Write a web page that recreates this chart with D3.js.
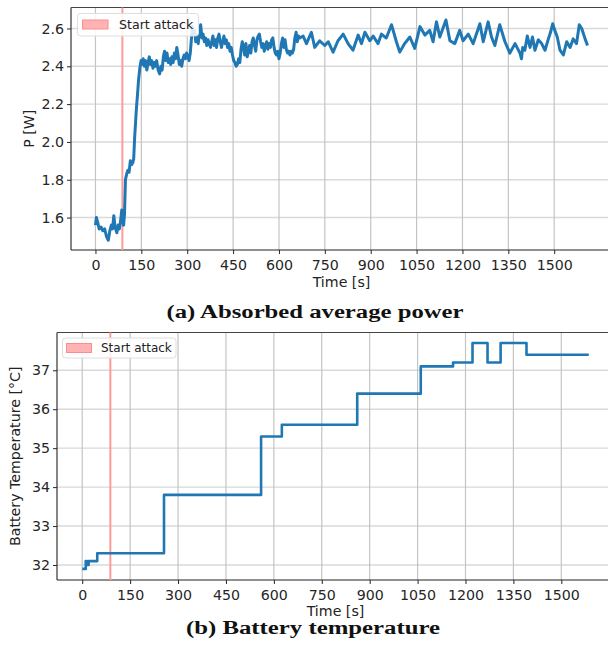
<!DOCTYPE html>
<html><head><meta charset="utf-8">
<script src="https://cdn.jsdelivr.net/npm/d3@7"></script>
<style>
html,body{margin:0;padding:0;background:#fff;}
svg{display:block;font-family:"DejaVu Sans",sans-serif;}
</style></head>
<body>
<script>
// ---------- DATA ----------
const attackTime = 88;
const powerT = [0,3,8,12,18,24,30,36,42,47,52,56,60,64,70,74,78,82,86,89,92,95,98,102,106,110,114,118,122,125,128,131,134,137,141,145,149,152,156,160,164,168,172,176,180,184,188,192,196,200,205,210,214,218,222,226,230,234,238,242,246,250,254,258,262,266,270,274,278,282,286,290,294,298,302,306,310,314,317,320,324,328,332,336,340,344,348,352,356,360,364,368,372,376,380,384,388,392,396,400,404,408,412,416,420,424,428,432,436,440,444,448,452,456,460,464,468,472,476,480,484,488,492,496,500,504,508,512,516,520,524,528,532,536,540,544,548,552,556,560,564,568,572,576,580,584,588,592,596,600,604,608,612,616,620,624,628,632,636,640,644,648,652,656,660,664,668,679,690,706,717,733,750,761,777,793,810,826,842,859,870,881,897,908,924,935,951,968,984,995,1011,1028,1044,1061,1077,1093,1104,1115,1126,1146,1159,1175,1191,1202,1219,1235,1257,1268,1284,1295,1306,1322,1339,1355,1372,1388,1393,1397,1404,1412,1421,1429,1437,1448,1459,1470,1481,1488,1495,1502,1510,1519,1530,1541,1552,1562,1573,1582,1590,1601,1609];
const powerW = [1.56,1.60,1.57,1.54,1.55,1.53,1.54,1.50,1.48,1.53,1.56,1.54,1.61,1.55,1.52,1.56,1.54,1.58,1.64,1.58,1.56,1.62,1.80,1.83,1.85,1.84,1.90,1.88,1.89,1.91,2.02,2.10,2.18,2.24,2.33,2.39,2.43,2.41,2.44,2.40,2.43,2.38,2.42,2.45,2.41,2.43,2.39,2.42,2.40,2.43,2.38,2.36,2.40,2.38,2.45,2.48,2.43,2.47,2.42,2.44,2.41,2.45,2.42,2.47,2.44,2.50,2.46,2.41,2.43,2.40,2.44,2.46,2.44,2.47,2.45,2.43,2.47,2.55,2.61,2.57,2.59,2.53,2.56,2.52,2.58,2.62,2.55,2.57,2.53,2.55,2.51,2.54,2.52,2.50,2.53,2.56,2.51,2.54,2.50,2.55,2.57,2.53,2.50,2.53,2.56,2.52,2.54,2.50,2.52,2.48,2.50,2.46,2.43,2.42,2.40,2.41,2.44,2.42,2.49,2.53,2.50,2.46,2.52,2.45,2.48,2.51,2.47,2.53,2.55,2.51,2.48,2.54,2.56,2.57,2.53,2.50,2.52,2.48,2.51,2.53,2.49,2.52,2.50,2.54,2.55,2.50,2.47,2.46,2.48,2.44,2.47,2.52,2.55,2.50,2.54,2.49,2.47,2.48,2.46,2.48,2.47,2.49,2.55,2.58,2.53,2.56,2.55,2.56,2.52,2.58,2.50,2.535,2.51,2.53,2.475,2.535,2.57,2.52,2.485,2.565,2.52,2.58,2.535,2.56,2.52,2.57,2.55,2.62,2.53,2.475,2.52,2.555,2.495,2.61,2.565,2.59,2.53,2.635,2.555,2.645,2.535,2.52,2.59,2.535,2.57,2.52,2.625,2.53,2.635,2.555,2.51,2.62,2.53,2.47,2.52,2.47,2.44,2.50,2.485,2.56,2.50,2.555,2.485,2.54,2.52,2.485,2.545,2.58,2.625,2.59,2.555,2.485,2.46,2.53,2.50,2.545,2.52,2.62,2.60,2.545,2.51];
const tempT = [0,11,15,20,47,256,560,625,861,1060,1161,1222,1269,1310,1391,1586];
const tempC = [31.9,32.1,32.0,32.1,32.3,33.8,35.3,35.6,36.4,37.1,37.2,37.7,37.2,37.7,37.4,37.4];
const timeTicks = [0,150,300,450,600,750,900,1050,1200,1350,1500];
const powerTicks = [1.6,1.8,2.0,2.2,2.4,2.6];
const tempTicks = [32,33,34,35,36,37];
const legendLabel = "Start attack";

// ---------- DRAW ----------
const W = 608, H = 649;
const svg = d3.select("body").append("svg").attr("width", W).attr("height", H);
const FS = 14.2;

function panel(cfg) {
  const {x0,x1,y0,y1,xDom,yDom,yTicks,yFmt,ylabel,ylabelX,xlabelY,tickY,legend,caption,capY,capX,capW,id} = cfg;
  const x = d3.scaleLinear().domain(xDom).range([x0,x1]);
  const y = d3.scaleLinear().domain(yDom).range([y1,y0]);
  const g = svg.append("g");
  g.append("clipPath").attr("id", id).append("rect").attr("x", x0).attr("y", y0).attr("width", x1-x0).attr("height", y1-y0);
  // grid
  g.append("g").selectAll("line").data(yTicks).join("line")
    .attr("x1", x0).attr("x2", x1).attr("y1", d=>y(d)).attr("y2", d=>y(d))
    .attr("stroke", "#d9d9d9").attr("stroke-width", 1.4);
  g.append("g").selectAll("line").data(timeTicks).join("line")
    .attr("x1", d=>x(d)).attr("x2", d=>x(d)).attr("y1", y0).attr("y2", y1)
    .attr("stroke", "#c4c4c4").attr("stroke-width", 1.2);
  // axes
  const xa = g.append("g").attr("transform", `translate(0,${y1})`)
    .call(d3.axisBottom(x).tickValues(timeTicks).tickSize(4).tickPadding(3).tickFormat(d3.format("d")));
  const ya = g.append("g").attr("transform", `translate(${x0},0)`)
    .call(d3.axisLeft(y).tickValues(yTicks).tickSize(4).tickPadding(3).tickFormat(yFmt));
  [xa, ya].forEach(a => {
    a.select(".domain").remove();
    a.selectAll("text").attr("font-size", FS).attr("font-family", "DejaVu Sans").attr("fill", "#262626");
    a.selectAll("line").attr("stroke", "#262626");
  });
  xa.selectAll("text").attr("dy", null).attr("y", tickY - y1).attr("dominant-baseline", "alphabetic");
  // spines
  g.append("line").attr("x1", x0).attr("x2", x0).attr("y1", y0).attr("y2", y1).attr("stroke", "#222").attr("stroke-width", 1.1);
  g.append("line").attr("x1", x0).attr("x2", x1).attr("y1", y1).attr("y2", y1).attr("stroke", "#222").attr("stroke-width", 1.1);
  g.append("line").attr("x1", x0).attr("x2", x1).attr("y1", y0).attr("y2", y0).attr("stroke", "#444").attr("stroke-width", 1.1);
  // attack line
  g.append("line").attr("x1", x(attackTime)).attr("x2", x(attackTime)).attr("y1", y0).attr("y2", y1)
    .attr("stroke", "#ff9a9a").attr("stroke-width", 2);
  // data
  g.append("path").datum(cfg.data).attr("clip-path", `url(#${id})`)
    .attr("fill", "none").attr("stroke", "#1f77b4").attr("stroke-width", cfg.lw)
    .attr("stroke-linejoin", "round")
    .attr("d", d3.line().x(d=>x(d[0])).y(d=>y(d[1])).curve(cfg.curve));
  // legend
  const L = legend;
  g.append("rect").attr("x", L.x).attr("y", L.y).attr("width", L.w).attr("height", L.h).attr("rx", 3)
    .attr("fill", "rgba(255,255,255,0.85)").attr("stroke", "#dedede");
  g.append("rect").attr("x", L.px).attr("y", L.py).attr("width", L.pw).attr("height", L.ph)
    .attr("fill", "#ffb3b3").attr("stroke", "#ff8c8c").attr("stroke-width", 1);
  g.append("text").attr("x", L.tx).attr("y", L.ty).attr("font-size", L.fs).attr("fill", "#222").text(legendLabel);
  // labels
  g.append("text").attr("transform", `translate(${ylabelX},${(y0+y1)/2}) rotate(-90)`)
    .attr("text-anchor", "middle").attr("font-size", FS).attr("fill", "#222").text(ylabel);
  g.append("text").attr("x", (x0+x1)/2).attr("y", xlabelY).attr("text-anchor", "middle")
    .attr("font-size", FS).attr("fill", "#222").text("Time [s]");
  g.append("text").attr("x", capX).attr("y", capY).attr("text-anchor", "middle")
    .attr("font-family", "'Liberation Serif','DejaVu Serif',serif").attr("font-weight", "bold")
    .attr("font-size", 18.5).attr("fill", "#111")
    .attr("textLength", capW).attr("lengthAdjust", "spacingAndGlyphs").text(caption);
}

panel({
  id: "c1", x0: 71, x1: 612, y0: 7.5, y1: 250,
  xDom: [-80, 1689], yDom: [1.4285, 2.711],
  yTicks: powerTicks, yFmt: d3.format(".1f"), ylabel: "P [W]", ylabelX: 34, xlabelY: 287, tickY: 269.5,
  data: powerT.map((t,i)=>[t, powerW[i]]), curve: d3.curveLinear, lw: 3,
  legend: {x: 77.5, y: 13.5, w: 121, h: 22.5, px: 82.5, py: 20, pw: 25.5, ph: 9, tx: 119, ty: 28.5, fs: 12.6},
  caption: "(a) Absorbed average power", capX: 315, capY: 318, capW: 297
});
panel({
  id: "c2", x0: 57, x1: 614, y0: 332.5, y1: 580,
  xDom: [-79, 1665], yDom: [31.615, 37.97],
  yTicks: tempTicks, yFmt: d3.format("d"), ylabel: "Battery Temperature [°C]", ylabelX: 20, xlabelY: 616, tickY: 599.5,
  data: tempT.map((t,i)=>[t, tempC[i]]), curve: d3.curveStepAfter, lw: 2.6,
  legend: {x: 62.5, y: 338, w: 113.5, h: 20, px: 66.5, py: 343.5, pw: 25, ph: 9, tx: 101, ty: 352, fs: 12},
  caption: "(b) Battery temperature", capX: 313, capY: 634, capW: 254
});
</script>
</body></html>
